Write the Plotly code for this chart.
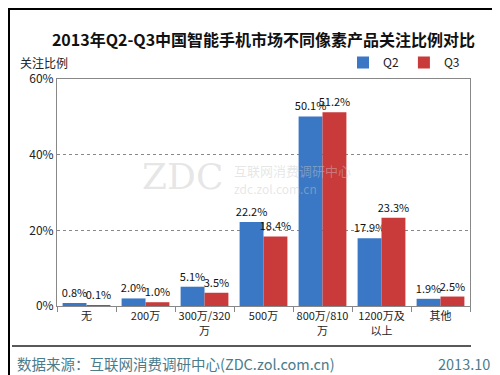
import plotly.graph_objects as go

categories = ["无", "200万", "300万/320<br>万", "500万", "800万/810<br>万", "1200万及<br>以上", "其他"]
q2 = [0.8, 2.0, 5.1, 22.2, 50.1, 17.9, 1.9]
q3 = [0.1, 1.0, 3.5, 18.4, 51.2, 23.3, 2.5]
series_names = ["Q2", "Q3"]
y_ticks = [0, 20, 40, 60]
y_tick_labels = ["0%", "20%", "40%", "60%"]

W, H = 500, 375
L, R, T, B = 49, 462, 71, 298
pw, ph = R - L, B - T

def px(x):
    return (x - L) / pw

def py(y):
    return (B - y) / ph

FONT = "Noto Sans CJK SC"

fig = go.Figure()
for name, vals, col in [(series_names[0], q2, "#3a77c4"), (series_names[1], q3, "#c93a3a")]:
    fig.add_trace(go.Bar(x=categories, y=vals, name=name, marker=dict(color=col, line=dict(width=0)),
                         text=[f"{v:.1f}%" for v in vals], textposition="outside", cliponaxis=False,
                         constraintext="none",
                         textfont=dict(size=11, color="#111111", family=FONT)))

fig.update_layout(
    width=W, height=H,
    margin=dict(l=L, r=W - R, t=T, b=H - B, pad=0, autoexpand=False),
    paper_bgcolor="white", plot_bgcolor="white",
    barmode="group", bargap=0.19, bargroupgap=0,
    font=dict(family=FONT, size=12, color="#222222"),
    showlegend=True,
    legend=dict(orientation="h", x=px(335), y=py(40), xanchor="left", yanchor="top",
                font=dict(size=12, color="#222222"),
                itemwidth=30, bgcolor="rgba(0,0,0,0)", traceorder="normal"),
    title=dict(text="<b>2013年Q2-Q3中国智能手机市场不同像素产品关注比例对比</b>",
               x=0.5, xref="paper", y=1 - 32 / H, yanchor="middle",
               font=dict(size=16, color="#111111", family=FONT)),
    xaxis=dict(showline=True, linecolor="#888888", linewidth=1, mirror=True,
               ticks="outside", tickson="boundaries", ticklen=5, tickcolor="#888888",
               tickangle=0, tickfont=dict(size=11, color="#222222"), showgrid=False),
    yaxis=dict(range=[0, 60], tickvals=y_ticks, ticktext=y_tick_labels,
               showline=True, linecolor="#888888", linewidth=1, mirror=True,
               showgrid=True, gridcolor="#888888", griddash="dot", gridwidth=1,
               ticks="", tickfont=dict(size=12, color="#222222"), zeroline=False),
)

shapes = [
    dict(type="rect", xref="paper", yref="paper", x0=px(1), x1=px(499), y0=py(374), y1=py(1),
         line=dict(color="black", width=2), fillcolor="rgba(0,0,0,0)", layer="above"),
    dict(type="line", xref="paper", yref="paper", x0=px(4), x1=px(463), y0=py(338), y1=py(338),
         line=dict(color="#222222", width=1.5)),
]
fig.update_layout(shapes=shapes)

wm = "rgba(200,200,200,0.45)"
annotations = [
    dict(text="关注比例", xref="paper", yref="paper", x=px(10), y=py(54), xanchor="left", yanchor="middle",
         showarrow=False, font=dict(size=12, color="#222222")),
    dict(text="数据来源：互联网消费调研中心(ZDC.zol.com.cn)", xref="paper", yref="paper", x=px(7), y=py(355),
         xanchor="left", yanchor="middle", showarrow=False, font=dict(size=14.5, color="#4a7c8c")),
    dict(text="2013.10", xref="paper", yref="paper", x=px(484), y=py(355),
         xanchor="right", yanchor="middle", showarrow=False, font=dict(size=14.5, color="#4a7c8c")),
    dict(text="ZDC", xref="paper", yref="paper", x=px(132), y=py(168), xanchor="left", yanchor="middle",
         showarrow=False, font=dict(size=36, color=wm, family="DejaVu Serif")),
    dict(text="互联网消费调研中心", xref="paper", yref="paper", x=px(224), y=py(162), xanchor="left", yanchor="middle",
         showarrow=False, font=dict(size=13, color=wm)),
    dict(text="zdc.zol.com.cn", xref="paper", yref="paper", x=px(224), y=py(180), xanchor="left", yanchor="middle",
         showarrow=False, font=dict(size=12, color=wm)),
]
fig.update_layout(annotations=annotations)

fig.write_html("out.html")
